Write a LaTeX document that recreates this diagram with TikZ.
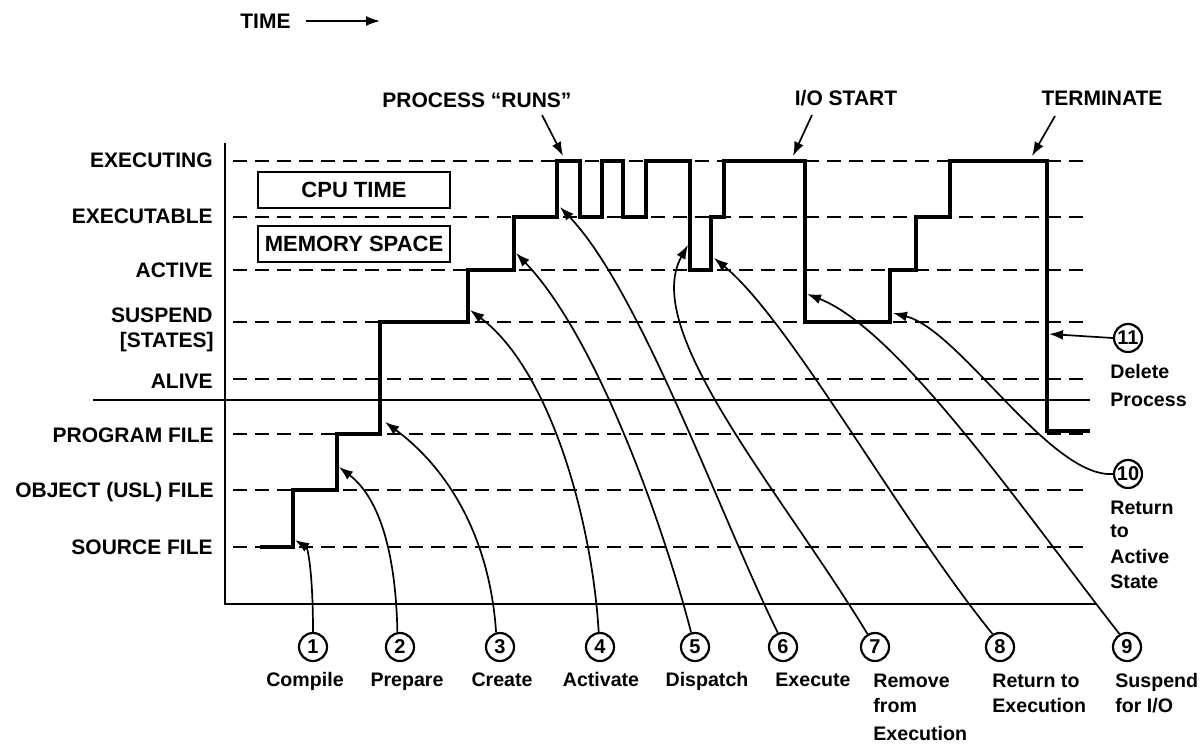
\documentclass[tikz,border=0pt]{standalone}
\usepackage{fontspec}
\setmainfont{Liberation Sans}
\usetikzlibrary{arrows.meta}
\begin{document}
\begin{tikzpicture}[x=0.5pt,y=-0.5pt,
  lvl/.style={line width=0.95pt,dash pattern=on 7pt off 4pt},
  axis/.style={line width=1.1pt},
  wave/.style={line width=1.9pt,line join=miter},
  callout/.style={line width=0.85pt,-{Latex[length=7pt,width=5pt]}},
  num/.style={circle,draw,line width=1.1pt,minimum size=14pt,inner sep=0pt,font=\bfseries\fontsize{10}{11}\selectfont},
  capl/.style={font=\bfseries\fontsize{10.5}{12}\selectfont,inner sep=0pt},
  lab/.style={font=\bfseries\fontsize{9.8}{11}\selectfont,inner sep=0pt},
  box/.style={draw,line width=1.1pt,minimum width=96pt,minimum height=18pt,inner sep=0pt,font=\bfseries\fontsize{11}{13}\selectfont}]
\useasboundingbox (0,0) rectangle (1203,744);

% title
\node[capl,anchor=base west] (time) at (240,28) {TIME};
\coordinate (timeStart) at (306,21);
\coordinate (timeEnd) at (380,21);
\draw[callout] (timeStart) -- (timeEnd);

% level lines
\foreach \y in {161,217,270,322,379,434,490,547}
  \draw[lvl] (233,\y) -- (1090,\y);
\draw[axis] (93,400) -- (1090,400);
\draw[axis] (225,143) -- (225,604) -- (1097,604);

% level labels
\node[capl,anchor=base east] (lExecuting) at (213,167) {EXECUTING};
\node[capl,anchor=base east] (lExecutable) at (213,223) {EXECUTABLE};
\node[capl,anchor=base east] (lActive) at (213,277) {ACTIVE};
\node[capl,anchor=base east] (lSuspend) at (213,322) {SUSPEND};
\node[capl,anchor=base east] (lStates) at (214,347) {[STATES]};
\node[capl,anchor=base east] (lAlive) at (213,388) {ALIVE};
\node[capl,anchor=base east] (lProgram) at (214,442) {PROGRAM FILE};
\node[capl,anchor=base east] (lObject) at (214,497) {OBJECT (USL) FILE};
\node[capl,anchor=base east] (lSource) at (213,554) {SOURCE FILE};

% boxes
\node[box] (cpu) at (354,190) {CPU TIME};
\node[box] (mem) at (354,244) {MEMORY SPACE};

% waveform
\draw[wave] (260,547) -- (293,547) -- (293,490) -- (337,490) -- (337,434)
  -- (380,434) -- (380,322) -- (468,322) -- (468,270) -- (514,270)
  -- (514,217) -- (557,217) -- (557,161) -- (580,161) -- (580,217)
  -- (602,217) -- (602,161) -- (623,161) -- (623,217) -- (646,217)
  -- (646,161) -- (690,161) -- (690,270) -- (711,270) -- (711,217)
  -- (724,217) -- (724,161) -- (805,161) -- (805,322) -- (890,322)
  -- (890,270) -- (916,270) -- (916,217) -- (950,217) -- (950,161)
  -- (1047,161) -- (1047,431) -- (1090,431);

% top labels
\node[capl,anchor=base] (runs) at (477,107) {PROCESS “RUNS”};
\node[capl,anchor=base] (iostart) at (846,105) {I/O START};
\node[capl,anchor=base] (term) at (1102,105) {TERMINATE};
\coordinate (sRuns) at (542,115);
\coordinate (tRuns) at (563,156);
\coordinate (sIO) at (812,115);
\coordinate (tIO) at (793,156);
\coordinate (sTerm) at (1055,116);
\coordinate (tTerm) at (1032,156);
\draw[callout] (sRuns) -- (tRuns);
\draw[callout] (sIO) -- (tIO);
\draw[callout] (sTerm) -- (tTerm);

% numbered circles
\node[num] (c1) at (313,647) {1};
\node[num] (c2) at (400,647) {2};
\node[num] (c3) at (500,647) {3};
\node[num] (c4) at (600,647) {4};
\node[num] (c5) at (695,647) {5};
\node[num] (c6) at (783,647) {6};
\node[num] (c7) at (875,647) {7};
\node[num] (c8) at (1000,647) {8};
\node[num] (c9) at (1127,647) {9};
\node[num] (c10) at (1128,474) {10};
\node[num] (c11) at (1128,338) {11};

% bottom labels
\node[lab,anchor=base] (n1) at (305,686) {Compile};
\node[lab,anchor=base] (n2) at (407,686) {Prepare};
\node[lab,anchor=base] (n3) at (502,686) {Create};
\node[lab,anchor=base] (n4) at (601,686) {Activate};
\node[lab,anchor=base] (n5) at (707,686) {Dispatch};
\node[lab,anchor=base] (n6) at (813,686) {Execute};
\node[lab,anchor=base west] (n7a) at (873,687) {Remove};
\node[lab,anchor=base west] (n7b) at (873,712) {from};
\node[lab,anchor=base west] (n7c) at (873,740) {Execution};
\node[lab,anchor=base west] (n8a) at (992,687) {Return to};
\node[lab,anchor=base west] (n8b) at (992,712) {Execution};
\node[lab,anchor=base west] (n9a) at (1115,687) {Suspend};
\node[lab,anchor=base west] (n9b) at (1115,712) {for I/O};
\node[lab,anchor=base west] (n10a) at (1110,514) {Return};
\node[lab,anchor=base west] (n10b) at (1110,537) {to};
\node[lab,anchor=base west] (n10c) at (1110,563) {Active};
\node[lab,anchor=base west] (n10d) at (1110,588) {State};
\node[lab,anchor=base west] (n11a) at (1110,378) {Delete};
\node[lab,anchor=base west] (n11b) at (1110,406) {Process};

% arrow targets on the waveform
\coordinate (t1) at (295,540);
\coordinate (t2) at (339,467);
\coordinate (t3) at (385,422);
\coordinate (t4) at (470,310);
\coordinate (t5) at (516,253);
\coordinate (t6) at (560,207);
\coordinate (t7) at (688,245);
\coordinate (t8) at (714,258);
\coordinate (t9) at (807,294);
\coordinate (t10) at (893,313);
\coordinate (t11) at (1049,334);

% callouts
\draw[callout] (c1.north) .. controls (313,575) and (308,548) .. (t1);
\draw[callout] (c2.100) .. controls (396,560) and (382,500) .. (t2);
\draw[callout] (c3.105) .. controls (490,540) and (450,470) .. (t3);
\draw[callout] (c4.95) .. controls (592,520) and (550,370) .. (t4);
\draw[callout] (c5.105) .. controls (662,520) and (595,335) .. (t5);
\draw[callout] (c6.110) .. controls (722,520) and (640,290) .. (t6);
\draw[callout] (c7.120) .. controls (780,490) and (640,330) .. (t7);
\draw[callout] (c8.120) .. controls (900,520) and (790,320) .. (t8);
\draw[callout] (c9.120) .. controls (1030,520) and (900,330) .. (t9);
\draw[callout] (c10.west) .. controls (1050,478) and (960,330) .. (t10);
\draw[callout] (c11.west) -- (t11);
\end{tikzpicture}
\end{document}
